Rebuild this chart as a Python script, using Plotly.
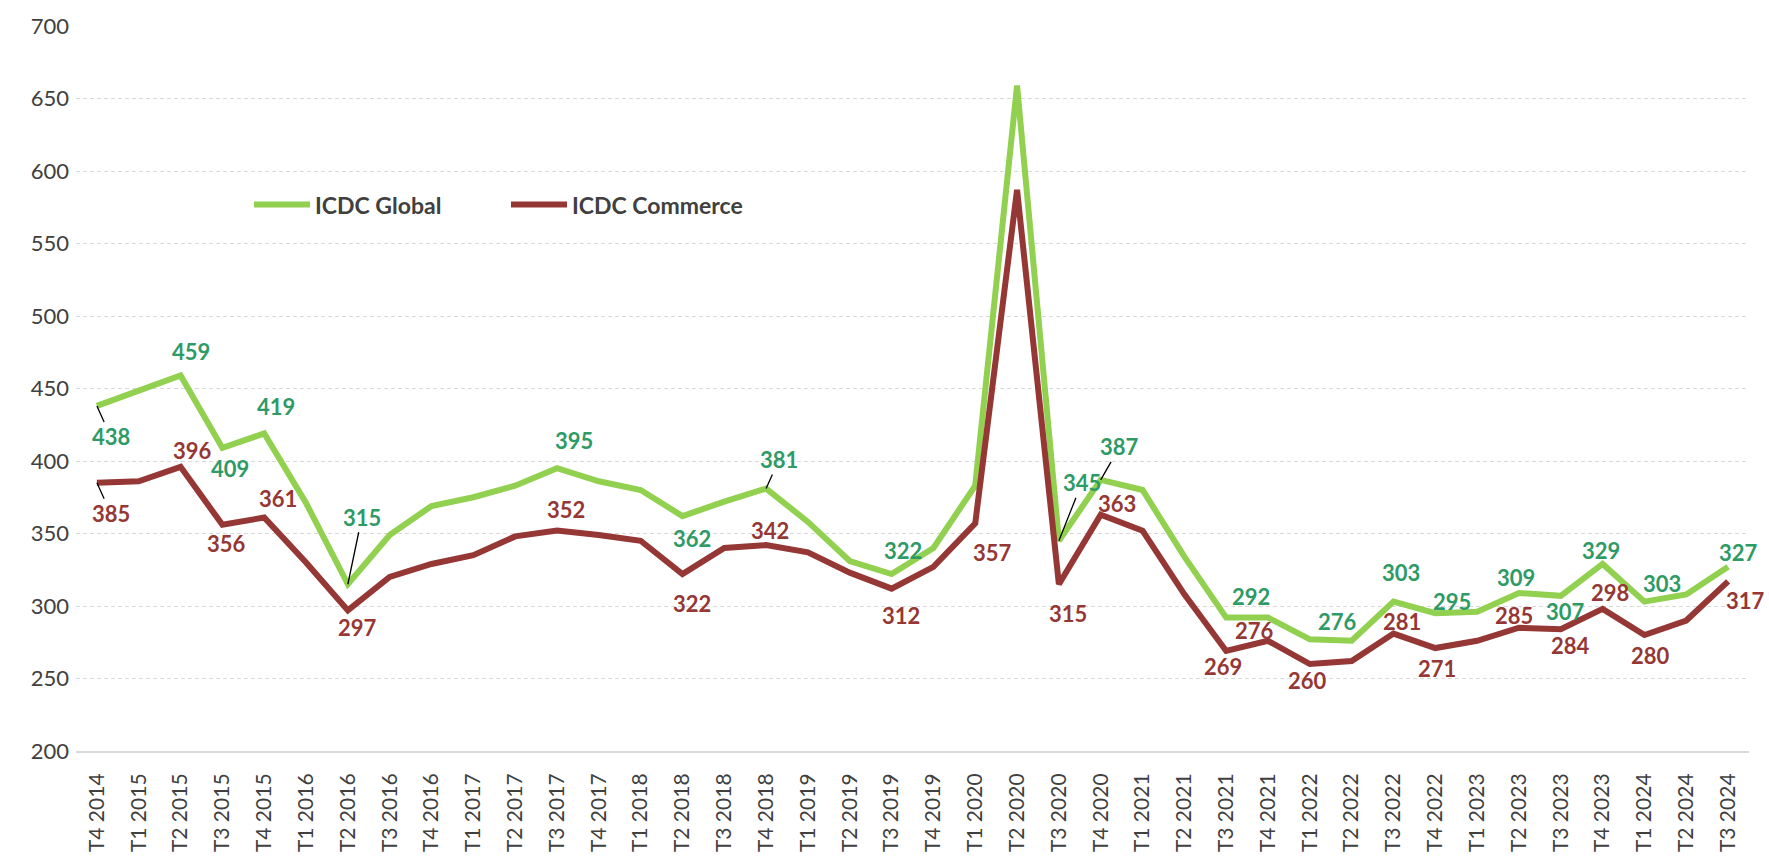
import plotly.graph_objects as go

# Quarter labels (T = trimestre)
quarters = [
    "T4 2014",
    "T1 2015", "T2 2015", "T3 2015", "T4 2015",
    "T1 2016", "T2 2016", "T3 2016", "T4 2016",
    "T1 2017", "T2 2017", "T3 2017", "T4 2017",
    "T1 2018", "T2 2018", "T3 2018", "T4 2018",
    "T1 2019", "T2 2019", "T3 2019", "T4 2019",
    "T1 2020", "T2 2020", "T3 2020", "T4 2020",
    "T1 2021", "T2 2021", "T3 2021", "T4 2021",
    "T1 2022", "T2 2022", "T3 2022", "T4 2022",
    "T1 2023", "T2 2023", "T3 2023", "T4 2023",
    "T1 2024", "T2 2024", "T3 2024",
]

icdc_global = [438, 448, 459, 409, 419, 371, 315, 349, 369, 375, 383, 395, 386, 380,
               362, 372, 381, 358, 331, 322, 340, 383, 659, 345, 387, 380, 334, 292,
               292, 277, 276, 303, 295, 296, 309, 307, 329, 303, 308, 327]

icdc_commerce = [385, 386, 396, 356, 361, 330, 297, 320, 329, 335, 348, 352, 349, 345,
                 322, 340, 342, 337, 323, 312, 327, 357, 587, 315, 363, 352, 308, 269,
                 276, 260, 262, 281, 271, 276, 285, 284, 298, 280, 290, 317]

y_ticks = [200, 250, 300, 350, 400, 450, 500, 550, 600, 650, 700]

# Which points carry a value label: index -> (dx, dy, leader line)
global_labels = {
    0: (14, 31, True), 2: (10, -24, False), 3: (8, 21, False), 4: (12, -27, False),
    6: (14, -67, True), 11: (17, -28, False), 14: (10, 22, False), 16: (13, -29, True),
    19: (11, -24, False), 23: (23, -58, True), 24: (19, -33, True), 27: (25, -21, False),
    30: (-14, -19, False), 31: (8, -29, False), 32: (17, -12, False), 34: (-3, -15, False),
    35: (5, 16, False), 36: (-2, -13, False), 37: (18, -18, False), 39: (10, -14, False),
}
commerce_labels = {
    0: (14, 31, True), 2: (12, -16, False), 3: (4, 19, False), 4: (14, -19, False),
    6: (10, 17, False), 11: (9, -21, False), 14: (10, 29, False), 16: (4, -15, False),
    19: (9, 27, False), 21: (17, 29, False), 23: (9, 29, False), 24: (16, -11, False),
    27: (-3, 16, False), 28: (-14, -10, False), 29: (-2, 16, False), 31: (9, -12, False),
    32: (2, 20, False), 34: (-5, -12, False), 35: (10, 16, False), 36: (7, -16, False),
    37: (6, 20, False), 39: (17, 19, False),
}

GREEN_LINE = "#92D050"
GREEN_TEXT = "#2E9A66"
RED_LINE = "#953735"
RED_TEXT = "#953735"
FONT = "Lato"

fig = go.Figure()
fig.add_trace(go.Scatter(x=quarters, y=icdc_global, mode="lines", name="ICDC Global",
                         line=dict(color=GREEN_LINE, width=6), hoverinfo="skip",
                         showlegend=False))
fig.add_trace(go.Scatter(x=quarters, y=icdc_commerce, mode="lines", name="ICDC Commerce",
                         line=dict(color=RED_LINE, width=6), hoverinfo="skip",
                         showlegend=False))


def add_value_labels(values, labels, color):
    for i, (dx, dy, leader) in labels.items():
        common = dict(x=quarters[i], y=values[i], text=str(values[i]),
                      font=dict(family=FONT, size=22, color=color, weight="bold"))
        if leader:
            fig.add_annotation(**common, showarrow=True, ax=dx, ay=dy, arrowhead=0,
                               arrowwidth=1.3, arrowcolor="#000000", standoff=0)
        else:
            fig.add_annotation(**common, showarrow=False, xshift=dx, yshift=-dy)


add_value_labels(icdc_global, global_labels, GREEN_TEXT)
add_value_labels(icdc_commerce, commerce_labels, RED_TEXT)

# Legend drawn inside the plot area
legend_items = [("ICDC Global", GREEN_LINE, 0.1064, 0.1399),
                ("ICDC Commerce", RED_LINE, 0.2600, 0.2935)]
for name, color, x0, x1 in legend_items:
    fig.add_shape(type="line", xref="paper", yref="paper", x0=x0, x1=x1,
                  y0=0.7537, y1=0.7537, line=dict(color=color, width=6))
    fig.add_annotation(xref="paper", yref="paper", x=x1 + 0.0015, y=0.7537,
                       xanchor="left", yanchor="middle", showarrow=False, text=name,
                       font=dict(family=FONT, size=23, color="#404040", weight="bold"))

fig.update_layout(
    width=1769, height=864,
    margin=dict(l=76, r=20, t=20, b=97),
    paper_bgcolor="white", plot_bgcolor="white",
    font=dict(family=FONT, color="#404040"),
    showlegend=False,
)
fig.update_xaxes(
    type="category", range=[-0.5, len(quarters) - 0.5],
    showgrid=False, showline=True, linecolor="#D9D9D9", linewidth=2,
    ticks="", tickangle=-90, tickfont=dict(family=FONT, size=21, color="#404040"),
    ticklabelstandoff=12,
)
fig.update_yaxes(
    range=[200, 700], tickvals=y_ticks, showgrid=True, gridcolor="#D9D9D9",
    gridwidth=1, griddash="4px,3px", zeroline=False, showline=False, ticks="",
    tickfont=dict(family=FONT, size=22, color="#404040"), ticklabelstandoff=6,
)

fig.write_html("out.html")
